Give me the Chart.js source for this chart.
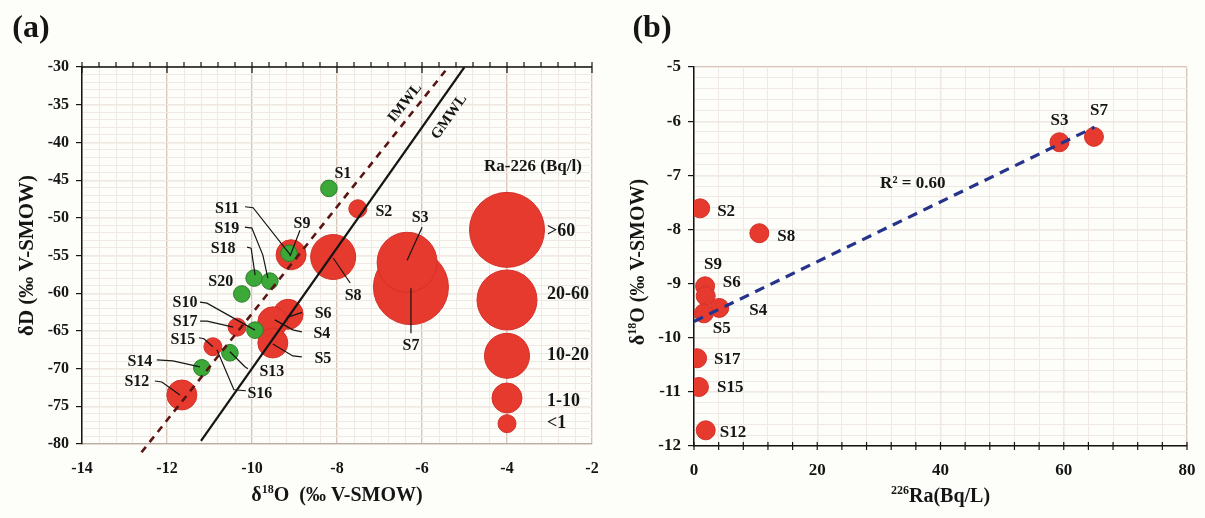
<!DOCTYPE html>
<html><head><meta charset="utf-8">
<script src="https://cdn.jsdelivr.net/npm/chart.js@4.4.1/dist/chart.umd.min.js"></script>
<style>
html,body{margin:0;padding:0;background:#fdfdf9;}
#wrap{position:relative;width:1205px;height:518px;overflow:hidden;}
#ca{position:absolute;left:0;top:0;width:640px;height:518px;}
#cb{position:absolute;left:605px;top:0;width:600px;height:518px;}
</style></head><body>
<div id="wrap"><canvas id="ca" width="640" height="518"></canvas><canvas id="cb" width="600" height="518"></canvas></div>
<script>
// ---------------- DATA: panel (a) ----------------
const redNames  = ['S7','S3','S8','S11','S6','S4','S5','S12','S2','S17','S15'];
const redO18    = [-6.26,-6.35,-8.09,-9.08,-9.15,-9.51,-9.51,-11.65,-7.51,-10.35,-10.92];
const redD      = [-59.2,-55.9,-55.2,-54.9,-62.8,-63.8,-66.6,-73.5,-48.8,-64.5,-67.1];
const redClass  = ['>60','20-60','10-20','1-10','1-10','1-10','1-10','1-10','<1','<1','<1'];
const greenNames = ['S1','S9','S18','S19','S20','S10','S13','S14'];
const greenO18   = [-8.19,-9.13,-9.95,-9.58,-10.24,-9.93,-10.52,-11.18];
const greenD     = [-46.1,-54.7,-58.0,-58.4,-60.1,-64.9,-67.9,-69.9];
const legendClasses = ['>60','20-60','10-20','1-10','<1'];
const legendO18     = [-4,-4,-4,-4,-4];
const legendD       = [-51.6,-60.9,-68.3,-73.9,-77.3];
const imwlO18 = [-12.6,-5.45];
const imwlD   = [-81.1,-30.5];
const gmwlO18 = [-11.2,-5.0];
const gmwlD   = [-79.6,-30.0];
const xTicksA = [-14,-12,-10,-8,-6,-4,-2];
const yTicksA = [-80,-75,-70,-65,-60,-55,-50,-45,-40,-35,-30];
// ---------------- DATA: panel (b) ----------------
const bNames = ['S2','S8','S9','S6','S4','S5','S17','S15','S12','S3','S7'];
const bRa    = [1.0,10.6,1.8,1.9,4.1,1.6,0.5,0.8,1.9,59.3,64.9];
const bO18   = [-7.61,-8.07,-9.05,-9.23,-9.45,-9.55,-10.38,-10.91,-11.71,-6.39,-6.29];
const trendRa  = [0,65];
const trendO18 = [-9.70,-6.11];
const xTicksB = [0,20,40,60,80];
const yTicksB = [-12,-11,-10,-9,-8,-7,-6,-5];

// ---------------- STYLE ----------------
const FAM = "'Liberation Serif','Times New Roman',serif";
const MAJ = '#d8c6bb', MIN = '#f0e8e2';
const RED = '#e53a2d', REDB = '#d4302a', GRN = '#3ba838', GRNB = '#2b7e29';
const INK = '#151515';
const classRadius = {'>60':37.5,'20-60':30,'10-20':22.5,'1-10':15,'<1':9};
const GREEN_R = 8.3;
const B_R = 9.5;

function evenTicks(min, max, n){const o=[];for(let i=0;i<=n;i++)o.push({value:min+(max-min)*i/n});return o;}
function pts(xs, ys, rs){return xs.map((x,i)=>rs?{x:x,y:ys[i],r:rs[i]}:{x:x,y:ys[i]});}
function f(size){return 'bold '+size+'px '+FAM;}

function drawRich(ctx, parts, x, y, rot, size){
  ctx.save(); ctx.translate(x,y); ctx.rotate(rot||0);
  ctx.fillStyle = INK; ctx.textBaseline='alphabetic'; ctx.textAlign='left';
  let w=0;
  parts.forEach(p=>{ctx.font=f(p.sup?Math.round(size*0.62):size); w+=ctx.measureText(p.t).width;});
  let cx=-w/2;
  parts.forEach(p=>{
    const s=p.sup?Math.round(size*0.62):size; ctx.font=f(s);
    ctx.fillText(p.t, cx, size*0.34 - (p.sup?size*0.38:0));
    cx+=ctx.measureText(p.t).width;
  });
  ctx.restore();
}
function leader(ctx, x0, y0, list){
  if(!list) return;
  ctx.save(); ctx.strokeStyle=INK; ctx.lineWidth=1.2; ctx.beginPath();
  list.forEach((p,i)=>{ if(i===0) ctx.moveTo(x0+p[0],y0+p[1]); else ctx.lineTo(x0+p[0],y0+p[1]); });
  ctx.stroke(); ctx.restore();
}
function fixPad(s){s.paddingLeft=0;s.paddingRight=0;s.paddingTop=0;s.paddingBottom=0;}

// ---------------- annotations ----------------
const labelsA = [
 {n:'S1', dx:14, dy:-16},
 {n:'S2', dx:26, dy:2},
 {n:'S11', dx:-64, dy:-47, lead:[[-46,-48],[-38,-47],[-1,0]]},
 {n:'S9', dx:13, dy:-30, lead:[[11,-23],[1,3]]},
 {n:'S19', dx:-43, dy:-53, lead:[[-25,-54],[-18,-53],[-7,-26],[-2,-3]]},
 {n:'S18', dx:-31, dy:-30, lead:[[-7,-31],[-3,-30],[1,-3]]},
 {n:'S20', dx:-21, dy:-13},
 {n:'S10', dx:-70, dy:-28, lead:[[-55,-28],[-48,-27],[0,0]]},
 {n:'S17', dx:-52, dy:-6, lead:[[-37,-6],[-30,-6],[-4,0]]},
 {n:'S15', dx:-30, dy:-8, lead:[[-14,-9],[-9,-8],[0,0]]},
 {n:'S16', ref:'S15', dx:47, dy:46, lead:[[33,44],[21,43],[4,3]]},
 {n:'S13', dx:42, dy:18, lead:[[18,16],[15,14],[0,-1]]},
 {n:'S14', dx:-62, dy:-7, lead:[[-45,-8],[-29,-7],[-2,-1]]},
 {n:'S12', dx:-45, dy:-14, lead:[[-27,-14],[-20,-13],[-2,0]]},
 {n:'S6', dx:35, dy:-1, lead:[[14,-2],[-1,3]]},
 {n:'S4', dx:49, dy:11, lead:[[29,10],[20,8],[2,-2]]},
 {n:'S5', dx:50, dy:15, lead:[[29,14],[20,13],[0,1]]},
 {n:'S8', dx:20, dy:38, lead:[[17,26],[0,1]]},
 {n:'S3', dx:13, dy:-45, lead:[[15,-35],[0,-2]]},
 {n:'S7', dx:0, dy:58, lead:[[0,46],[0,1]]}
];
const legendText = ['>60','20-60','10-20','1-10','<1'];
const legendTextDy = [0,-7,-1,2,-1];
const labelsB = [
 {n:'S2',dx:17,dy:2,al:'left'},{n:'S8',dx:18,dy:2,al:'left'},{n:'S9',dx:8,dy:-23,al:'center'},
 {n:'S6',dx:17,dy:-14,al:'left'},{n:'S4',dx:30,dy:2,al:'left'},{n:'S5',dx:9,dy:14,al:'left'},
 {n:'S17',dx:17,dy:0,al:'left'},{n:'S15',dx:18,dy:0,al:'left'},{n:'S12',dx:14,dy:1,al:'left'},
 {n:'S3',dx:0,dy:-23,al:'center'},{n:'S7',dx:5,dy:-27,al:'center'}
];

function findA(name){
  let i=redNames.indexOf(name); if(i>=0) return {x:redO18[i],y:redD[i]};
  i=greenNames.indexOf(name); return {x:greenO18[i],y:greenD[i]};
}

const decoA = {
  id:'decoA',
  afterDraw(chart){
    const ctx=chart.ctx, a=chart.chartArea, xs=chart.scales.x, ys=chart.scales.y;
    // top axis (black, with ticks)
    ctx.save(); ctx.strokeStyle=INK; ctx.lineWidth=1.5;
    ctx.beginPath(); ctx.moveTo(a.left,a.top); ctx.lineTo(a.right,a.top); ctx.stroke();
    ctx.lineWidth=1.2;
    for(let i=0;i<=30;i++){
      const v=-14+i*0.4, x=xs.getPixelForValue(v); ctx.beginPath();
      if(i%5===0){ctx.moveTo(x,a.top-5);ctx.lineTo(x,a.top+6);} else {ctx.moveTo(x,a.top-5);ctx.lineTo(x,a.top);}
      ctx.stroke();
    }
    ctx.restore();
    // point labels
    ctx.save(); ctx.fillStyle=INK; ctx.font=f(16); ctx.textAlign='center'; ctx.textBaseline='middle';
    labelsA.forEach(l=>{
      const p=findA(l.ref||l.n); const px=xs.getPixelForValue(p.x), py=ys.getPixelForValue(p.y);
      leader(ctx,px,py,l.lead);
      ctx.fillText(l.n, px+l.dx, py+l.dy+1);
    });
    ctx.restore();
    // MWL labels
    const ang = (xa,ya)=>Math.atan2(ys.getPixelForValue(ya[1])-ys.getPixelForValue(ya[0]), xs.getPixelForValue(xa[1])-xs.getPixelForValue(xa[0]));
    [['IMWL',-6.40,-34.77,ang(imwlO18,imwlD)],['GMWL',-5.36,-36.63,ang(gmwlO18,gmwlD)]].forEach(t=>{
      ctx.save(); ctx.translate(xs.getPixelForValue(t[1]), ys.getPixelForValue(t[2])); ctx.rotate(t[3]);
      ctx.fillStyle=INK; ctx.font=f(15); ctx.textAlign='center'; ctx.textBaseline='middle';
      ctx.fillText(t[0],0,0); ctx.restore();
    });
    // legend texts
    ctx.save(); ctx.fillStyle=INK;
    ctx.font=f(17); ctx.textAlign='center'; ctx.textBaseline='middle';
    ctx.fillText('Ra-226 (Bq/l)', xs.getPixelForValue(-3.39), ys.getPixelForValue(-43.26));
    ctx.font=f(18); ctx.textAlign='left';
    legendText.forEach((t,i)=>{
      ctx.fillText(t, xs.getPixelForValue(legendO18[i])+40, ys.getPixelForValue(legendD[i])+legendTextDy[i]+1);
    });
    ctx.restore();
    // axis titles & panel label
    drawRich(ctx,[{t:'δ'},{t:'18',sup:true},{t:'O  (‰ V-SMOW)'}], (a.left+a.right)/2, 494, 0, 20);
    drawRich(ctx,[{t:'δD (‰ V-SMOW)'}], 26, (a.top+a.bottom)/2, -Math.PI/2, 21);
    ctx.save(); ctx.fillStyle=INK; ctx.font=f(32); ctx.textAlign='center'; ctx.textBaseline='middle';
    ctx.fillText('(a)',31,29); ctx.restore();
  }
};

const decoB = {
  id:'decoB',
  afterDraw(chart){
    const ctx=chart.ctx, a=chart.chartArea, xs=chart.scales.x, ys=chart.scales.y;
    ctx.save(); ctx.strokeStyle=INK; ctx.lineWidth=1.2;
    for(let i=0;i<=20;i++){
      const x=xs.getPixelForValue(i*4); ctx.beginPath(); ctx.moveTo(x,a.bottom-4); ctx.lineTo(x,a.bottom+4); ctx.stroke();
    }
    ctx.restore();
    ctx.save(); ctx.fillStyle=INK; ctx.font=f(17); ctx.textBaseline='middle';
    labelsB.forEach(l=>{
      const i=bNames.indexOf(l.n); const px=xs.getPixelForValue(bRa[i]), py=ys.getPixelForValue(bO18[i]);
      ctx.textAlign=l.al; ctx.fillText(l.n, px+l.dx, py+l.dy+1);
    });
    ctx.textAlign='center';
    ctx.fillText('R² = 0.60', xs.getPixelForValue(35.5), ys.getPixelForValue(-7.14)+1);
    ctx.restore();
    drawRich(ctx,[{t:'226',sup:true},{t:'Ra(Bq/L)'}], xs.getPixelForValue(40), 495, 0, 20);
    drawRich(ctx,[{t:'δ'},{t:'18',sup:true},{t:'O (‰ V-SMOW)'}], 32, 262, -Math.PI/2, 20);
    ctx.save(); ctx.fillStyle=INK; ctx.font=f(32); ctx.textAlign='center'; ctx.textBaseline='middle';
    ctx.fillText('(b)',47,29); ctx.restore();
  }
};

function minorScale(pos,min,max,n){
  return {type:'linear',position:pos,min:min,max:max,z:-1,
    afterBuildTicks:s=>{s.ticks=evenTicks(min,max,n);},
    afterFit:s=>{ if(pos==='bottom') s.height=0; else s.width=0; fixPad(s); },
    ticks:{display:false,autoSkip:false},
    grid:{color:MIN,lineWidth:1,drawTicks:false},
    border:{display:false}};
}

new Chart(document.getElementById('ca'),{
  type:'bubble',
  data:{datasets:[
    {type:'line',label:'IMWL',data:pts(imwlO18,imwlD),borderColor:'#5a1414',borderWidth:2.6,borderDash:[7,6],pointRadius:0,tension:0,fill:false,clip:false},
    {type:'line',label:'GMWL',data:pts(gmwlO18,gmwlD),borderColor:INK,borderWidth:2.2,pointRadius:0,tension:0,fill:false},
    {type:'bubble',label:'no Ra',data:pts(greenO18,greenD,greenO18.map(()=>GREEN_R)),backgroundColor:GRN,borderColor:GRNB,borderWidth:1},
    {type:'bubble',label:'Ra-226',data:pts(redO18,redD,redClass.map(c=>classRadius[c])),backgroundColor:RED,borderColor:REDB,borderWidth:1},
    {type:'bubble',label:'legend',data:pts(legendO18,legendD,legendClasses.map(c=>classRadius[c])),backgroundColor:RED,borderColor:REDB,borderWidth:1}
  ]},
  options:{
    responsive:false,animation:false,events:[],
    layout:{padding:{top:67,right:48,left:0,bottom:0}},
    plugins:{legend:{display:false},tooltip:{enabled:false}},
    scales:{
      x:{type:'linear',position:'bottom',min:-14,max:-2,
        afterBuildTicks:s=>{s.ticks=xTicksA.map(v=>({value:v}));},
        afterFit:s=>{s.height=74;fixPad(s);},
        grid:{color:MAJ,lineWidth:1.2,drawTicks:false},
        border:{color:'#b9aca2',width:1.2},
        ticks:{font:{family:FAM,size:16,weight:'bold'},color:INK,padding:15,autoSkip:false,maxRotation:0,callback:v=>String(v)}},
      y:{type:'linear',position:'left',min:-80,max:-30,
        afterBuildTicks:s=>{s.ticks=yTicksA.map(v=>({value:v}));},
        afterFit:s=>{s.width=82;fixPad(s);},
        grid:{color:MAJ,lineWidth:1.2,tickLength:6,tickColor:INK},
        border:{color:INK,width:1.5},
        ticks:{font:{family:FAM,size:16,weight:'bold'},color:INK,padding:7,autoSkip:false,callback:v=>String(v)}},
      xm:minorScale('bottom',-14,-2,30),
      ym:minorScale('left',-80,-30,50)
    }
  },
  plugins:[decoA]
});

new Chart(document.getElementById('cb'),{
  type:'scatter',
  data:{datasets:[
    {type:'line',label:'trend',data:pts(trendRa,trendO18),borderColor:'#26338a',borderWidth:3.2,borderDash:[10,7],pointRadius:0,tension:0,fill:false},
    {type:'scatter',label:'samples',data:pts(bRa,bO18),backgroundColor:RED,borderColor:REDB,borderWidth:1,pointRadius:B_R}
  ]},
  options:{
    responsive:false,animation:false,events:[],
    layout:{padding:{top:67,right:18,left:0,bottom:0}},
    plugins:{legend:{display:false},tooltip:{enabled:false}},
    scales:{
      x:{type:'linear',position:'bottom',min:0,max:80,
        afterBuildTicks:s=>{s.ticks=xTicksB.map(v=>({value:v}));},
        afterFit:s=>{s.height=72;fixPad(s);},
        grid:{color:MAJ,lineWidth:1.2,drawTicks:false},
        border:{color:INK,width:1.5},
        ticks:{font:{family:FAM,size:17,weight:'bold'},color:INK,padding:14,autoSkip:false,maxRotation:0,callback:v=>String(v)}},
      y:{type:'linear',position:'left',min:-12,max:-5,
        afterBuildTicks:s=>{s.ticks=yTicksB.map(v=>({value:v}));},
        afterFit:s=>{s.width=89;fixPad(s);},
        grid:{color:MAJ,lineWidth:1.2,tickLength:6,tickColor:INK},
        border:{color:INK,width:1.5},
        ticks:{font:{family:FAM,size:17,weight:'bold'},color:INK,padding:7,autoSkip:false,callback:v=>String(v)}},
      xm:minorScale('bottom',0,80,20),
      ym:minorScale('left',-12,-5,35)
    }
  },
  plugins:[decoB]
});
</script>
</body></html>
